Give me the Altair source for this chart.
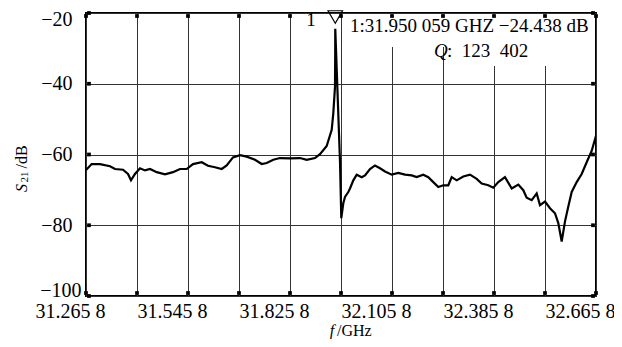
import json
import altair as alt
import pandas as pd

# ---- data ----
freq_ghz = [31.2658, 31.2814, 31.3042, 31.3317, 31.3454, 31.3674, 31.3811, 31.3893, 31.4003, 31.4140,
            31.4278, 31.4415, 31.4599, 31.4827, 31.5046, 31.5238, 31.5422, 31.5595, 31.5834, 31.6007,
            31.6199, 31.6383, 31.6520, 31.6693, 31.6885, 31.7069, 31.7297, 31.7481, 31.7618, 31.7800,
            31.7983, 31.8258, 31.8533, 31.8716, 31.8944, 31.9081, 31.9265, 31.9403, 31.9447, 31.9493,
            31.9499, 31.950059, 31.9631, 31.9666, 31.9721, 31.9768, 31.9858, 31.9905, 31.9996, 32.0089,
            32.0226, 32.0317, 32.0454, 32.0591, 32.0729, 32.0866, 32.1050, 32.1231, 32.1415, 32.1599,
            32.1736, 32.1917, 32.2054, 32.2192, 32.2329, 32.2466, 32.2603, 32.2697, 32.2834, 32.3015,
            32.3199, 32.3383, 32.3520, 32.3701, 32.3839, 32.3976, 32.4160, 32.4344, 32.4525, 32.4662,
            32.4755, 32.4893, 32.5030, 32.5120, 32.5258, 32.5395, 32.5532, 32.5623, 32.5716, 32.5807,
            32.5898, 32.5991, 32.6128, 32.6265, 32.6402, 32.6539, 32.6658]
s21_db = [-64.4, -62.7, -62.7, -63.3, -64.1, -64.3, -65.5, -67.3, -65.5, -63.9,
          -64.5, -64.1, -65.0, -65.6, -65.0, -64.1, -64.1, -62.7, -62.2, -63.2,
          -63.6, -64.1, -63.1, -60.8, -60.2, -60.6, -61.5, -62.7, -62.4, -61.5,
          -61.0, -61.1, -61.0, -61.5, -61.0, -59.9, -57.6, -53.0, -48.3, -40.9,
          -32.0, -24.438, -62.2, -78.0, -73.8, -72.0, -70.6, -69.6, -67.3, -65.7,
          -66.4, -65.9, -64.1, -63.1, -63.9, -64.8, -65.7, -65.2, -65.7, -65.9,
          -66.4, -65.7, -66.4, -67.8, -69.2, -68.7, -68.7, -66.4, -67.3, -66.2,
          -65.7, -66.9, -68.2, -68.7, -69.4, -67.8, -66.4, -69.6, -68.5, -70.1,
          -72.2, -72.9, -71.0, -74.3, -73.3, -75.2, -76.6, -79.4, -84.6, -78.9,
          -74.7, -70.6, -67.8, -65.5, -62.2, -59.0, -54.7]

grid_f = [31.2658, 31.4058, 31.5458, 31.6858, 31.8258, 31.9658,
          32.1058, 32.2458, 32.3858, 32.5258, 32.6658]
grid_labels = ["31.265 8", "", "31.545 8", "", "31.825 8", "",
               "32.105 8", "", "32.385 8", "", "32.665 8"]
y_ticks = [-100, -80, -60, -40, -20]

marker_f = [31.950059]
marker_line1 = "1:31.950 059 GHZ \u221224.438 dB"
marker_q_rest = ":\u00a0\u00a0123\u00a0\u00a0402"

FONT = "Liberation Serif"
W, H = 510, 283

xs = alt.Scale(domain=[grid_f[0], grid_f[-1]], nice=False, zero=False)
ys = alt.Scale(domain=[y_ticks[0], y_ticks[-1]], nice=False, zero=False)

key_strs = [f"{v:.4f}" for v in grid_f]
label_expr = f"{json.dumps(grid_labels)}[indexof({json.dumps(key_strs)}, format(datum.value, '.4f'))]"

xa = alt.Axis(values=grid_f, labelExpr=label_expr, grid=True, gridColor="#333333", gridWidth=1,
              ticks=False, domain=False, labelFont=FONT, labelFontSize=20, labelColor="black",
              labelPadding=5, labelOffset=-16, labelFlush=False, labelOverlap=False,
              title=None, zindex=0)
ya = alt.Axis(values=y_ticks, grid=True, gridColor="#333333", gridWidth=1, ticks=False, domain=False,
              labelFont=FONT, labelFontSize=20, labelColor="black",
              labelPadding=alt.condition("datum.value == -100", alt.value(5), alt.value(14)),
              labelBaseline=alt.condition("datum.value == -100", alt.value("alphabetic"), alt.value("middle")),
              labelOffset=alt.condition("datum.value == -20", alt.value(6), alt.value(0)),
              labelFlush=False, labelOverlap=False, title=None, zindex=0)

def X():
    return alt.X("f:Q", scale=xs, axis=xa, title=None)

def Y():
    return alt.Y("s:Q", scale=ys, axis=ya, title=None)

trace = pd.DataFrame({"f": freq_ghz, "s": s21_db})
line = alt.Chart(trace).mark_line(color="black", strokeWidth=2.2, clip=True).encode(x=X(), y=Y())

one = pd.DataFrame({"k": [0]})
box1 = alt.Chart(one).mark_rect(fill="white").encode(
    x=alt.value(257), x2=alt.value(508), y=alt.value(1), y2=alt.value(34))
box2 = alt.Chart(one).mark_rect(fill="white").encode(
    x=alt.value(369), x2=alt.value(508), y=alt.value(34), y2=alt.value(53))

sq_x = pd.DataFrame({"f": grid_f})
sq_y = pd.DataFrame({"s": y_ticks})
sq_top = alt.Chart(sq_x).mark_square(size=14, color="black", opacity=1, yOffset=3).encode(
    x=X(), y=alt.value(0))
sq_bot = alt.Chart(sq_x).mark_square(size=14, color="black", opacity=1, yOffset=-3).encode(
    x=X(), y=alt.value(H))
sq_left = alt.Chart(sq_y).mark_square(size=14, color="black", opacity=1, xOffset=3).encode(
    y=Y(), x=alt.value(0))
sq_right = alt.Chart(sq_y).mark_square(size=14, color="black", opacity=1, xOffset=-3).encode(
    y=Y(), x=alt.value(W))

tri = alt.Chart(pd.DataFrame({"f": marker_f})).mark_point(
    shape="triangle-down", size=210, filled=False, stroke="black", strokeWidth=1.2, opacity=1
).encode(x=X(), y=alt.value(4))

def txt(text, x, y, size=19, align="left", style="normal", angle=0):
    return alt.Chart(one).mark_text(text=text, font=FONT, fontSize=size, align=align,
                                    baseline="middle", fontStyle=style, angle=angle,
                                    color="black").encode(x=alt.value(x), y=alt.value(y))

t_num = txt("1", 225, 7, align="center")
t_line1 = txt(marker_line1, 264, 12.5)
t_q = txt("Q", 348, 38, style="italic")
t_qrest = txt(marker_q_rest, 361, 38)

y_s = txt("S", -64, 175, size=16, align="center", style="italic", angle=270)
y_sub = txt("21", -61, 164, size=11, align="center", angle=270)
y_db = txt("/dB", -64, 144, size=16, align="center", angle=270)

x_f = txt("f", 246, 318, size=16, align="center", style="italic")
x_ghz = txt("/GHz", 251, 318, size=16, align="left")

chart = alt.layer(
    line, box1, box2, sq_top, sq_bot, sq_left, sq_right, tri,
    t_num, t_line1, t_q, t_qrest, y_s, y_sub, y_db, x_f, x_ghz
).properties(
    width=W, height=H,
    padding={"left": 78, "top": 5, "right": 18, "bottom": 43},
    autosize=alt.AutoSizeParams(type="none"),
    background="white",
).configure_view(stroke="black", strokeWidth=2)

chart.save("out.html", embed_options={"renderer": "svg", "actions": False})
